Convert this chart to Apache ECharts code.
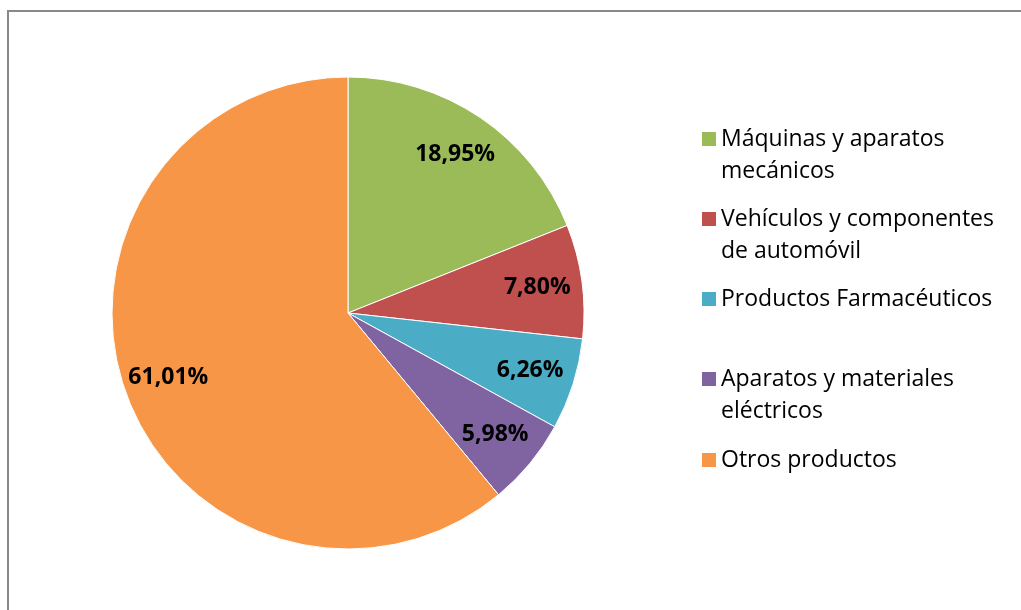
<!DOCTYPE html>
<html>
<head>
<meta charset="utf-8">
<script src="https://cdn.jsdelivr.net/npm/echarts@6/dist/echarts.min.js"></script>
<style>
  html, body { margin: 0; padding: 0; background: #fff; }
  #chart { width: 1021px; height: 610px; }
</style>
</head>
<body>
<div id="chart"></div>
<script>
// datos del gráfico
const categories = ['Máquinas y aparatos mecánicos', 'Vehículos y componentes de automóvil', 'Productos Farmacéuticos', 'Aparatos y materiales eléctricos', 'Otros productos'];
const legendLines = [['Máquinas y aparatos', 'mecánicos'], ['Vehículos y componentes', 'de automóvil'], ['Productos Farmacéuticos'], ['Aparatos y materiales', 'eléctricos'], ['Otros productos']];
const shares = [18.95, 7.80, 6.26, 5.98, 61.01];
const colors = ['#9BBB59', '#C0504D', '#4BACC6', '#8064A2', '#F79646'];

// layout de la leyenda (centro de la primera línea de cada entrada)
const legendFirstLine = [139, 219, 299, 379, 460];
const LH = 32;
const FONT = 'Open Sans';

const pieData = categories.map((n, i) => ({ name: n, value: shares[i] }));

const legends = categories.map((name, i) => {
  const lines = legendLines[i];
  const multi = lines.length > 1;
  // línea vacía arriba para que el cuadrado quede alineado con la primera línea
  const text = multi ? '\n' + lines.join('\n') : lines[0];
  return {
    data: [name],
    orient: 'vertical',
    left: 702,
    top: legendFirstLine[i] - (multi ? 1.5 * LH : 0.5 * LH),
    padding: 0,
    icon: 'rect',
    itemWidth: 14,
    itemHeight: 14,
    itemStyle: { borderWidth: 0 },
    selectedMode: false,
    formatter: () => text,
    textStyle: { fontFamily: FONT, fontSize: 23, color: '#000', lineHeight: LH }
  };
});

const chart = echarts.init(document.getElementById('chart'), null, { renderer: 'canvas' });
chart.setOption({
  animation: false,
  color: colors,
  textStyle: { fontFamily: FONT },
  graphic: [{
    type: 'rect',
    silent: true,
    shape: { x: 8, y: 11, width: 1200, height: 800 },
    style: { fill: 'none', stroke: '#898989', lineWidth: 2 }
  }],
  legend: legends,
  series: [
    {
      type: 'pie',
      center: [348, 313],
      radius: 236,
      startAngle: 90,
      clockwise: true,
      silent: true,
      data: pieData,
      label: { show: false },
      labelLine: { show: false },
      itemStyle: { borderColor: '#fff', borderWidth: 1 }
    },
    {
      // serie transparente solo para colocar las etiquetas cerca del borde
      type: 'pie',
      center: [348, 313],
      radius: [140, 236],
      startAngle: 90,
      clockwise: true,
      silent: true,
      data: pieData,
      itemStyle: { color: 'transparent' },
      labelLine: { show: false },
      label: {
        show: true,
        position: 'inside',
        formatter: p => p.value.toFixed(2).replace('.', ',') + '%',
        fontFamily: FONT,
        fontWeight: 'bold',
        fontSize: 23,
        color: '#000'
      }
    }
  ]
});
</script>
</body>
</html>
